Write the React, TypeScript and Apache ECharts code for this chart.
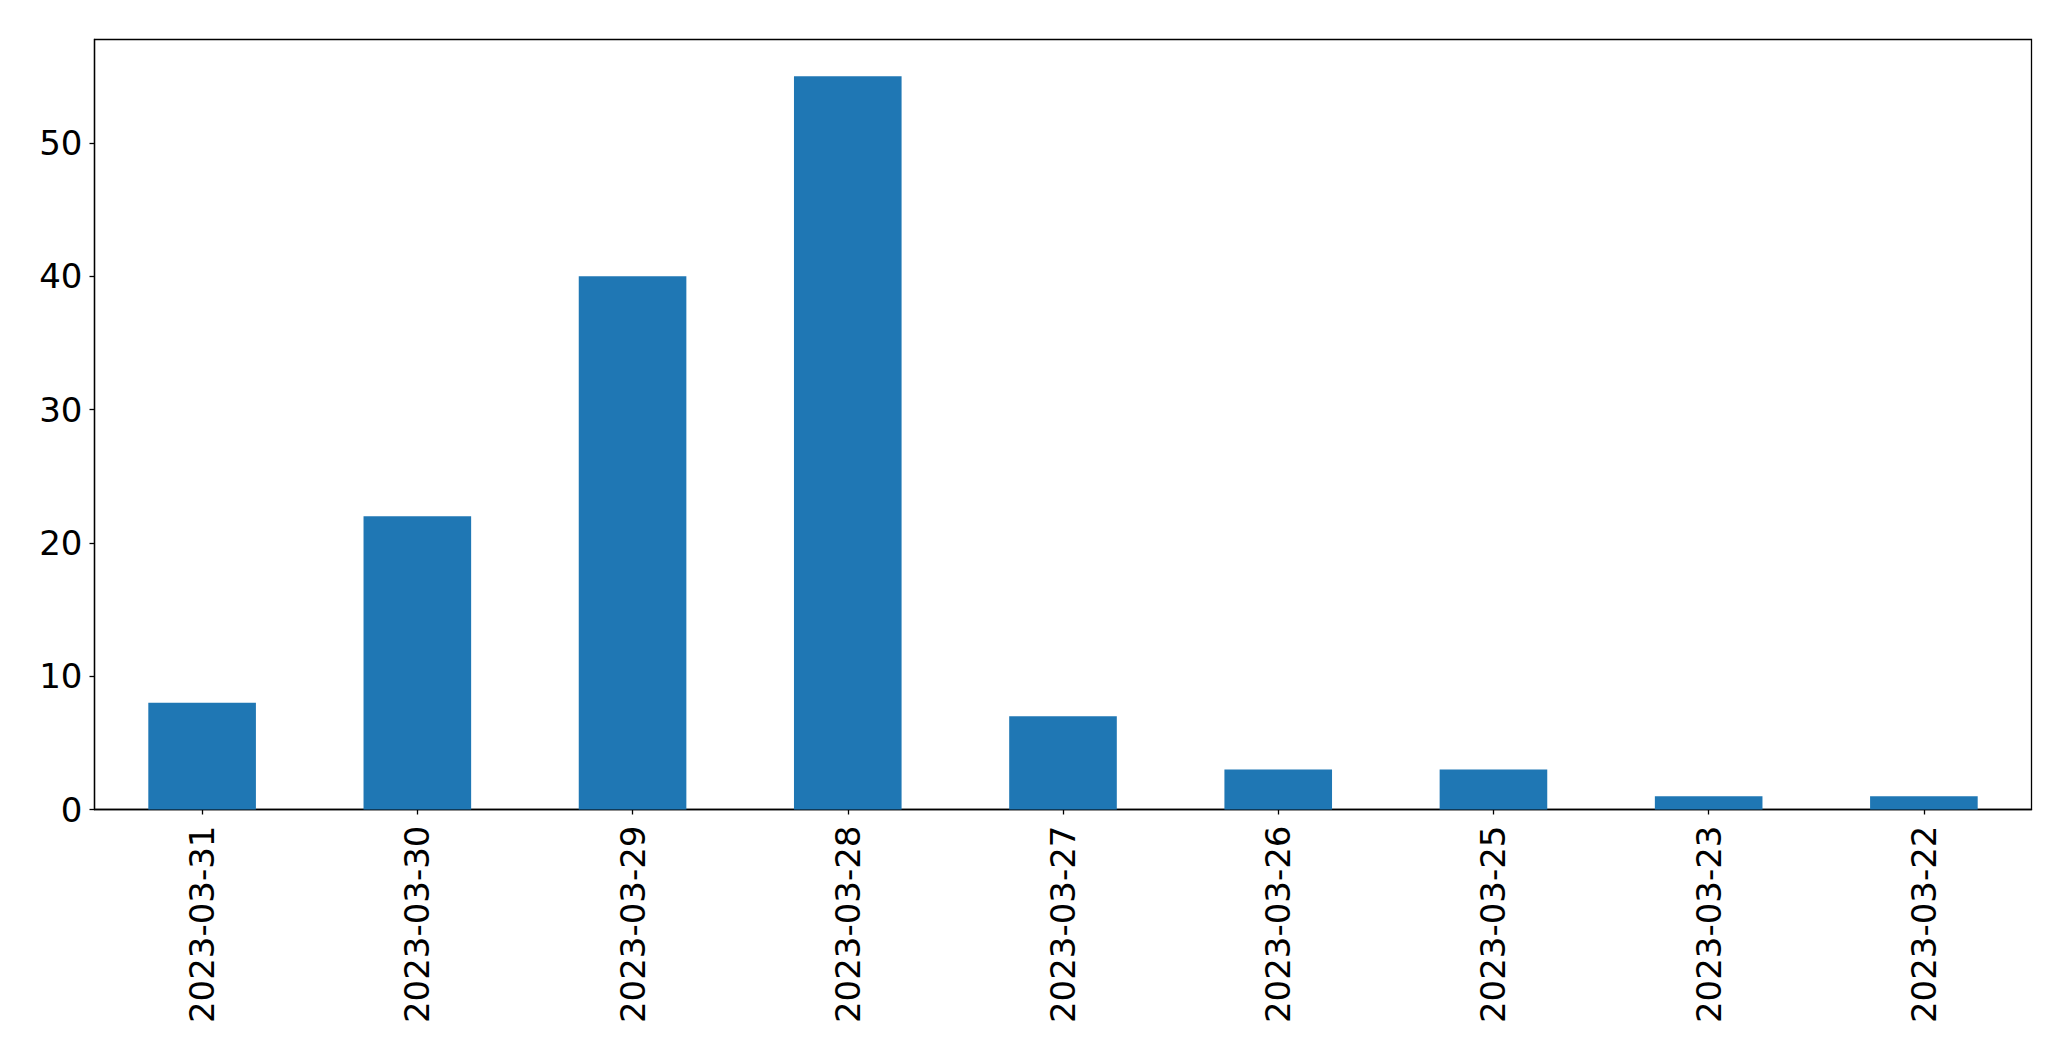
import React, { useEffect, useRef } from "react";
import * as echarts from "echarts";

const categories = [
  "2023-03-31",
  "2023-03-30",
  "2023-03-29",
  "2023-03-28",
  "2023-03-27",
  "2023-03-26",
  "2023-03-25",
  "2023-03-23",
  "2023-03-22",
];
const counts = [8, 22, 40, 55, 7, 3, 3, 1, 1];
const yTicks = [0, 10, 20, 30, 40, 50];
const yMax = 57.75;

export default function App() {
  const ref = useRef<HTMLDivElement>(null);
  useEffect(() => {
    if (!ref.current) return;
    const chart = echarts.init(ref.current, null, { renderer: "svg" });
    const font = "DejaVu Sans";
    chart.setOption({
      animation: false,
      backgroundColor: "#ffffff",
      grid: {
        left: 94.5,
        top: 39.5,
        right: 39.5,
        bottom: 251.5,
        show: true,
        borderColor: "#000000",
        borderWidth: 1.3,
        containLabel: false,
      },
      xAxis: {
        type: "category",
        data: categories,
        boundaryGap: true,
        axisLine: { show: true, lineStyle: { color: "#000000", width: 1.3 } },
        axisTick: {
          show: true,
          alignWithLabel: true,
          length: 5,
          lineStyle: { color: "#000000", width: 1.3 },
        },
        axisLabel: {
          rotate: 90,
          margin: 16,
          fontFamily: font,
          fontSize: 34,
          color: "#000000",
          interval: 0,
        },
        splitLine: { show: false },
      },
      yAxis: {
        type: "value",
        min: 0,
        max: yMax,
        interval: 10,
        axisLine: { show: true, lineStyle: { color: "#000000", width: 1.3 } },
        axisTick: {
          show: true,
          length: 5,
          lineStyle: { color: "#000000", width: 1.3 },
          customValues: yTicks,
        },
        axisLabel: {
          margin: 12,
          fontFamily: font,
          fontSize: 34,
          color: "#000000",
          customValues: yTicks,
        },
        splitLine: { show: false },
      },
      series: [
        {
          type: "bar",
          data: counts,
          barWidth: "50%",
          itemStyle: { color: "#1f77b4" },
        },
      ],
    });
    return () => chart.dispose();
  }, []);
  return (
    <div
      ref={ref}
      style={{ position: "fixed", left: 0, top: 0, width: 2071, height: 1061, background: "#fff" }}
    />
  );
}
